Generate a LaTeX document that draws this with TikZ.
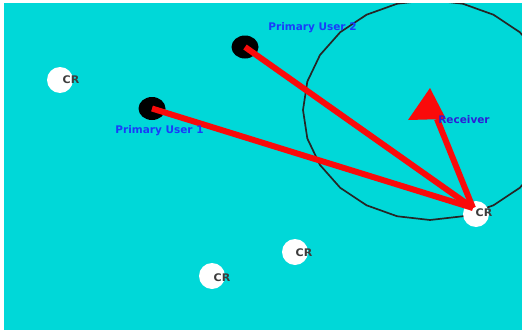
\documentclass[tikz,border=0pt]{standalone}
\usepackage{fontspec}
\setmainfont{DejaVu Sans}
\usetikzlibrary{shapes.geometric}
\definecolor{bgcyan}{RGB}{0,216,216}
\definecolor{pured}{RGB}{250,10,10}
\definecolor{pulabel}{RGB}{25,60,250}
\definecolor{rxlabel}{RGB}{45,30,215}
\definecolor{crtext}{RGB}{60,60,60}
\begin{document}
\begin{tikzpicture}[x=1pt,y=-1pt,
  pu/.style={ellipse, fill=black, minimum width=27pt, minimum height=23pt, inner sep=0pt},
  crblob/.style={circle, fill=white, minimum size=26pt, inner sep=0pt},
  lbl/.style={font=\fontsize{10.5}{11}\selectfont\bfseries, inner sep=0pt},
  link/.style={draw=pured, line width=6pt},
]
\useasboundingbox (0,0) rectangle (522,332);
\fill[bgcyan] (4,3) rectangle (522,330);
\begin{scope}
  \clip (4,3) rectangle (522,330);
  \draw[black!85, line width=1.7pt] plot[samples=25, domain=0:360, variable=\t]
    ({430+127*cos(\t)},{110+110*sin(\t)}) -- cycle;
\end{scope}
% nodes
\node[pu] (pu1) at (152,108.5) {};
\node[pu] (pu2) at (245,47) {};
\node[crblob] (cr1) at (60,80) {};
\node[crblob] (cr2) at (295,252) {};
\node[crblob] (cr3) at (212,276) {};
\node[crblob] (cr4) at (476,214) {};
\coordinate (hub) at (473,208);
\coordinate (rxbase) at (437,119);
\coordinate (rxtip) at (430,88);
\coordinate (rxleft) at (408,120);
\coordinate (rxright) at (446,119);
% links
\draw[link] (pu1.center) -- (hub);
\draw[link] (pu2.center) -- (hub);
\draw[link] (hub) -- (rxbase);
\fill[pured] (rxtip) -- (rxleft) -- (rxright) -- cycle;
% labels
\node[lbl, text=crtext] (cr1t) at (71,80) {\scalebox{1.05}[1]{CR}};
\node[lbl, text=crtext] (cr2t) at (304,253) {\scalebox{1.05}[1]{CR}};
\node[lbl, text=crtext] (cr3t) at (222,278) {\scalebox{1.05}[1]{CR}};
\node[lbl, text=crtext] (cr4t) at (484,213) {\scalebox{1.05}[1]{CR}};
\node[lbl, text=pulabel] (pu2t) at (312.5,28) {Primary User 2};
\node[lbl, text=pulabel] (pu1t) at (159.5,131) {Primary User 1};
\node[lbl, text=rxlabel] (rxt) at (464,120) {Receiver};
\end{tikzpicture}
\end{document}
